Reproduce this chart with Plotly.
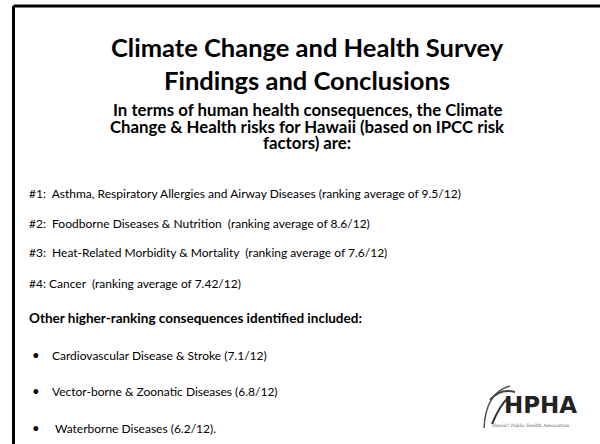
import plotly.graph_objects as go

W, H = 600, 444

title_lines = ["Climate Change and Health Survey", "Findings and Conclusions"]
subtitle_lines = ["In terms of human health consequences, the Climate",
                  "Change & Health risks for Hawaii (based on IPCC risk",
                  "factors) are:"]
top_ranks = ["#1:  ", "#2:  ", "#3:  ", "#4: "]
top_conditions = ["Asthma, Respiratory Allergies and Airway Diseases",
                  "Foodborne Diseases & Nutrition ",
                  "Heat-Related Morbidity & Mortality ",
                  "Cancer "]
top_scores = ["9.5", "8.6", "7.6", "7.42"]
other_header = "Other higher-ranking consequences identified included:"
other_conditions = ["Cardiovascular Disease & Stroke",
                    "Vector-borne & Zoonatic Diseases",
                    " Waterborne Diseases"]
other_scores = ["7.1", "6.8", "6.2"]
other_suffix = ["", "", "."]
scale_max = "12"

FONT = "Lato"

fig = go.Figure()
ann = []

def px(x):
    return x / W

def py(y):
    return 1 - y / H

title_y = [47, 80]
for t, y in zip(title_lines, title_y):
    ann.append(dict(text=f"<b>{t}</b>", x=px(307), y=py(y), xanchor="center", yanchor="middle",
                    font=dict(family=FONT, size=25.5, color="#000")))

sub_y = [109, 126, 143]
for t, y in zip(subtitle_lines, sub_y):
    ann.append(dict(text=f"<b>{t}</b>", x=px(307), y=py(y), xanchor="center", yanchor="middle",
                    borderpad=0, font=dict(family=FONT, size=16.8, color="#000")))

top_y = [193, 224, 253, 283]
for r, c, s, y in zip(top_ranks, top_conditions, top_scores, top_y):
    ann.append(dict(text=f"{r}{c} (ranking average of {s}/{scale_max})", x=px(27), y=py(y),
                    xanchor="left", yanchor="middle",
                    font=dict(family=FONT, size=12, color="#000")))

ann.append(dict(text=f"<b>{other_header}</b>", x=px(27), y=py(318), xanchor="left", yanchor="middle",
                font=dict(family=FONT, size=13.5, color="#000")))

oth_y = [355, 391, 428]
for c, s, suf, y in zip(other_conditions, other_scores, other_suffix, oth_y):
    ann.append(dict(text="•", x=px(30), y=py(y), xanchor="left", yanchor="middle",
                    font=dict(family=FONT, size=13, color="#000")))
    ann.append(dict(text=f"{c} ({s}/{scale_max}){suf}", x=px(50), y=py(y),
                    xanchor="left", yanchor="middle",
                    font=dict(family=FONT, size=12, color="#000")))

# logo (text based)
ann.append(dict(text="<b>HPHA</b>", x=px(540), y=py(405), xanchor="center", yanchor="middle",
                font=dict(family="DejaVu Sans", size=23, color="#222")))
ann.append(dict(text="Hawai'i Public Health Association", x=px(530), y=py(425), xanchor="center",
                yanchor="middle", font=dict(family="DejaVu Serif", size=4.5, color="#666")))

shapes = [
    dict(type="line", xref="paper", yref="paper", x0=px(13.5), x1=1.02, y0=py(6), y1=py(6),
         line=dict(color="#000", width=3)),
    dict(type="line", xref="paper", yref="paper", x0=px(13.5), x1=px(13.5), y0=py(6), y1=-0.02,
         line=dict(color="#000", width=3)),
    # palm frond hint of logo
    dict(type="path", xref="paper", yref="paper",
         path=f"M {px(484)},{py(428)} Q {px(486)},{py(392)} {px(510)},{py(386)}",
         line=dict(color="#555", width=1.5)),
    dict(type="path", xref="paper", yref="paper",
         path=f"M {px(490)},{py(400)} Q {px(500)},{py(388)} {px(515)},{py(392)}",
         line=dict(color="#444", width=2)),
    dict(type="path", xref="paper", yref="paper",
         path=f"M {px(492)},{py(424)} Q {px(500)},{py(405)} {px(508)},{py(398)}",
         line=dict(color="#333", width=2)),
]
for a in ann:
    a.update(xref="paper", yref="paper", showarrow=False)

fig.update_layout(width=W, height=H, margin=dict(l=0, r=0, t=0, b=0),
                  paper_bgcolor="white", plot_bgcolor="white",
                  xaxis=dict(visible=False, range=[0, 1]), yaxis=dict(visible=False, range=[0, 1]),
                  annotations=ann, shapes=shapes, showlegend=False)
fig.write_html("out.html", config={"displayModeBar": False},
               post_script="document.body.style.margin='0';document.body.style.padding='0';")
